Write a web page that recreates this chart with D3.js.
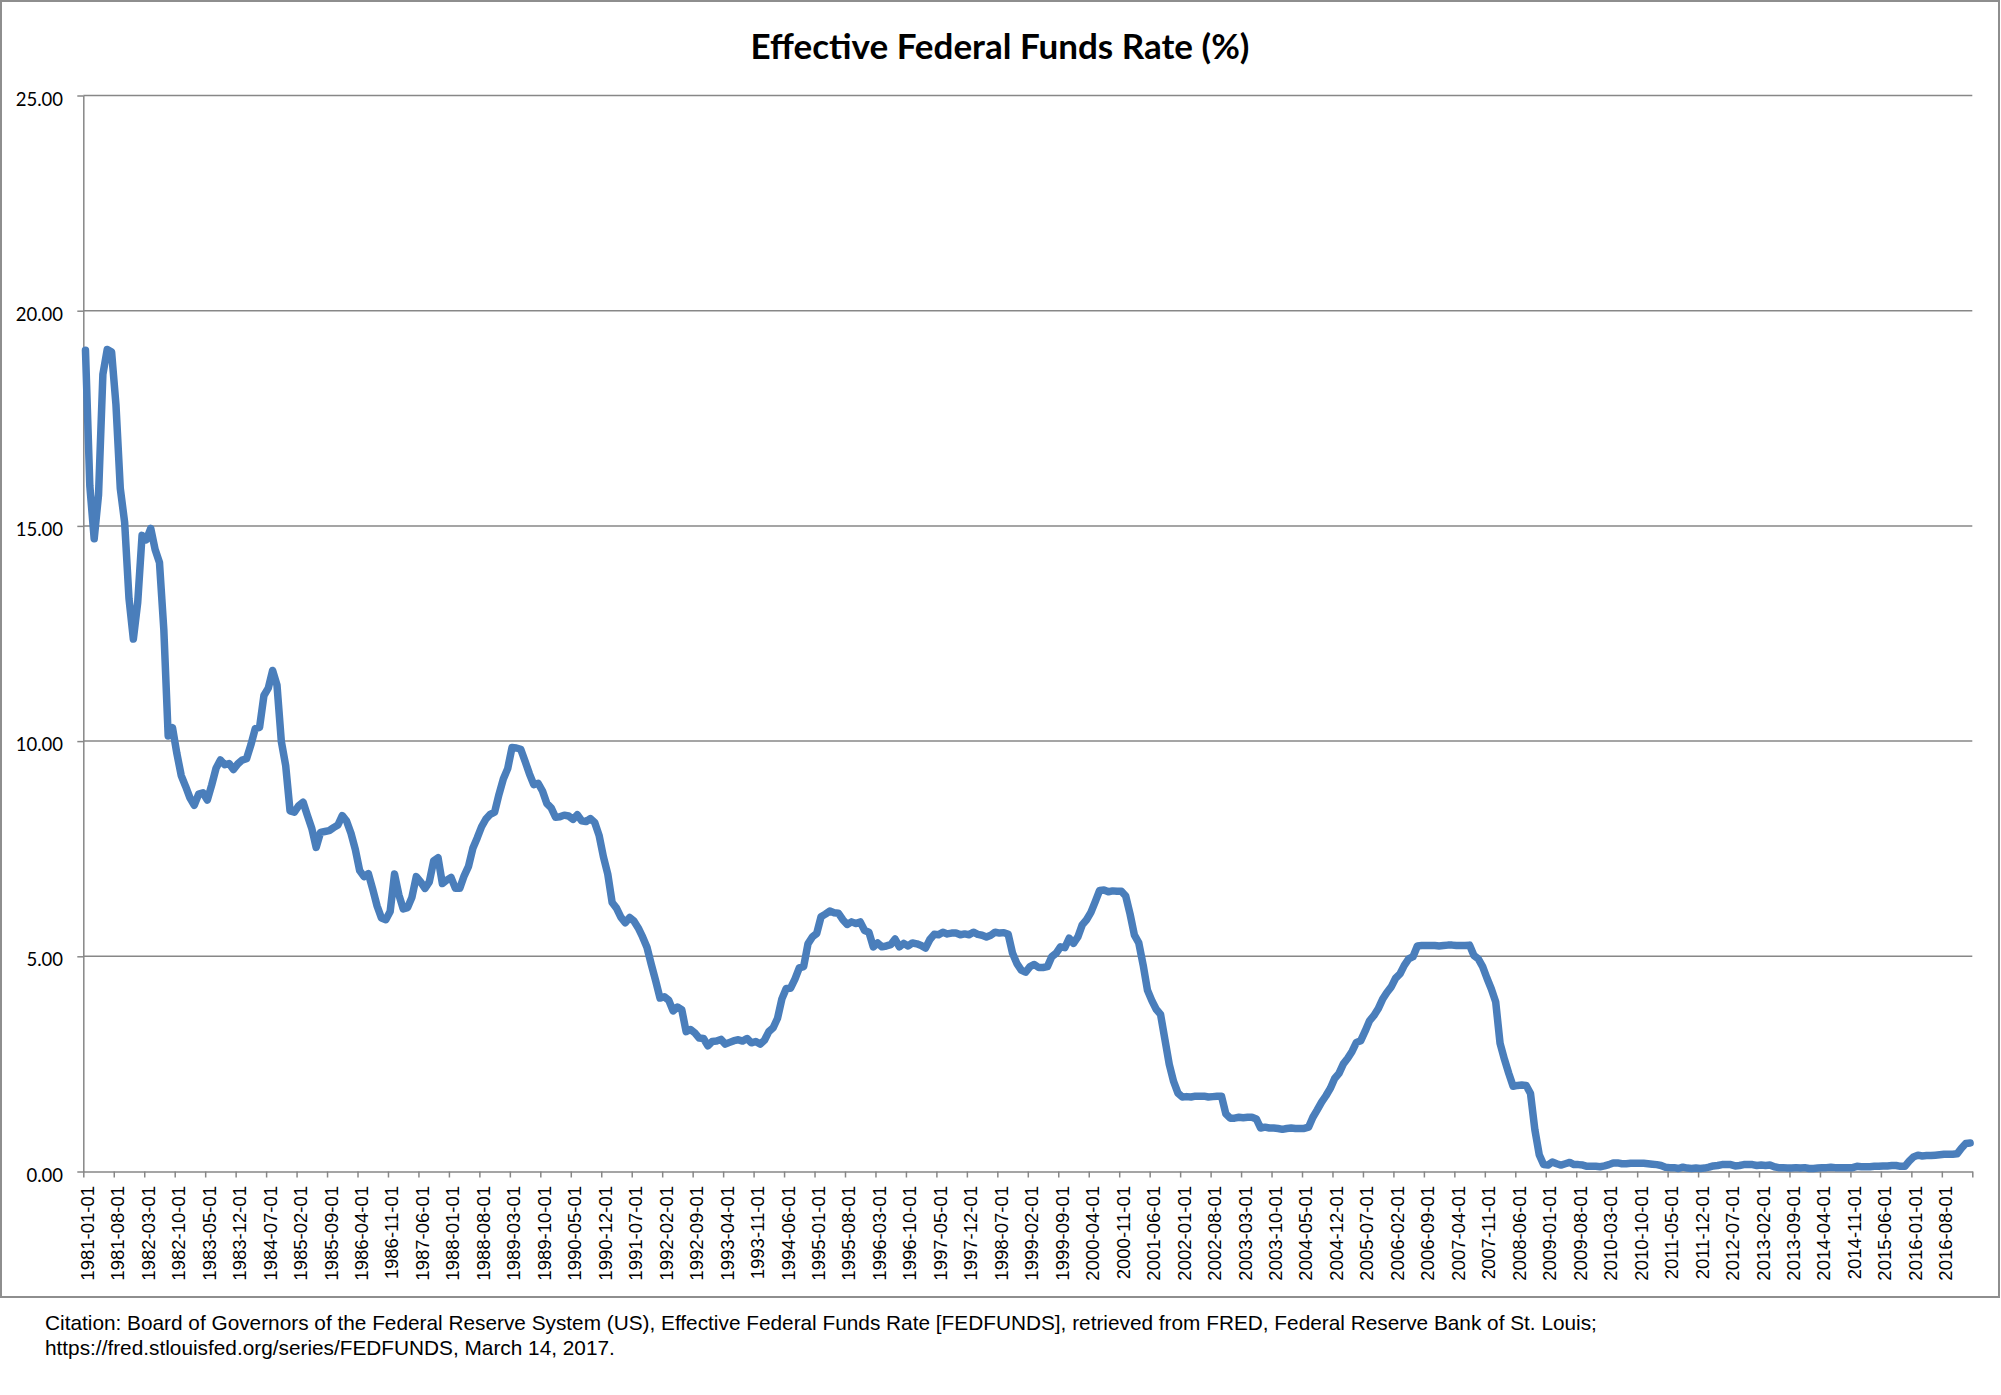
<!DOCTYPE html>
<html>
<head>
<meta charset="utf-8">
<script src="https://cdn.jsdelivr.net/npm/d3@7"></script>
<style>
  html, body { margin: 0; padding: 0; background: #ffffff; }
  svg { display: block; }
</style>
</head>
<body>
<svg id="chart" width="2001" height="1395"></svg>
<script>
// ---- Data: monthly Effective Federal Funds Rate (%) from 1981-01 to 2017-02 ----
const startMonth = "1981-01-01";
const rates = [
  19.08, 15.93, 14.70, 15.72, 18.52, 19.10, 19.04, 17.82, 15.87, 15.08, 13.31, 12.37, // 1981
  13.22, 14.78, 14.68, 14.94, 14.45, 14.15, 12.59, 10.12, 10.31, 9.71, 9.20, 8.95,    // 1982
  8.68, 8.51, 8.77, 8.80, 8.63, 8.98, 9.37, 9.56, 9.45, 9.48, 9.34, 9.47,             // 1983
  9.56, 9.59, 9.91, 10.29, 10.32, 11.06, 11.23, 11.64, 11.30, 9.99, 9.43, 8.38,       // 1984
  8.35, 8.50, 8.58, 8.27, 7.97, 7.53, 7.88, 7.90, 7.92, 7.99, 8.05, 8.27,             // 1985
  8.14, 7.86, 7.48, 6.99, 6.85, 6.92, 6.56, 6.17, 5.89, 5.85, 6.04, 6.91,             // 1986
  6.43, 6.10, 6.13, 6.37, 6.85, 6.73, 6.58, 6.73, 7.22, 7.29, 6.69, 6.77,             // 1987
  6.83, 6.58, 6.58, 6.87, 7.09, 7.51, 7.75, 8.01, 8.19, 8.30, 8.35, 8.76,             // 1988
  9.12, 9.36, 9.85, 9.84, 9.81, 9.53, 9.24, 8.99, 9.02, 8.84, 8.55, 8.45,             // 1989
  8.23, 8.24, 8.28, 8.26, 8.18, 8.29, 8.15, 8.13, 8.20, 8.11, 7.81, 7.31,             // 1990
  6.91, 6.25, 6.12, 5.91, 5.78, 5.90, 5.82, 5.66, 5.45, 5.21, 4.81, 4.43,             // 1991
  4.03, 4.06, 3.98, 3.73, 3.82, 3.76, 3.25, 3.30, 3.22, 3.10, 3.09, 2.92,             // 1992
  3.02, 3.03, 3.07, 2.96, 3.00, 3.04, 3.06, 3.03, 3.09, 2.99, 3.02, 2.96,             // 1993
  3.05, 3.25, 3.34, 3.56, 4.01, 4.25, 4.26, 4.47, 4.73, 4.76, 5.29, 5.45,             // 1994
  5.53, 5.92, 5.98, 6.05, 6.01, 6.00, 5.85, 5.74, 5.80, 5.76, 5.80, 5.60,             // 1995
  5.56, 5.22, 5.31, 5.22, 5.24, 5.27, 5.40, 5.22, 5.30, 5.24, 5.31, 5.29,             // 1996
  5.25, 5.19, 5.39, 5.51, 5.50, 5.56, 5.52, 5.54, 5.54, 5.50, 5.52, 5.50,             // 1997
  5.56, 5.51, 5.49, 5.45, 5.49, 5.56, 5.54, 5.55, 5.51, 5.07, 4.83, 4.68,             // 1998
  4.63, 4.76, 4.81, 4.74, 4.74, 4.76, 4.99, 5.07, 5.22, 5.20, 5.42, 5.30,             // 1999
  5.45, 5.73, 5.85, 6.02, 6.27, 6.53, 6.54, 6.50, 6.52, 6.51, 6.51, 6.40,             // 2000
  5.98, 5.49, 5.31, 4.80, 4.21, 3.97, 3.77, 3.65, 3.07, 2.49, 2.09, 1.82,             // 2001
  1.73, 1.74, 1.73, 1.75, 1.75, 1.75, 1.73, 1.74, 1.75, 1.75, 1.34, 1.24,             // 2002
  1.24, 1.26, 1.25, 1.26, 1.26, 1.22, 1.01, 1.03, 1.01, 1.01, 1.00, 0.98,             // 2003
  1.00, 1.01, 1.00, 1.00, 1.00, 1.03, 1.26, 1.43, 1.61, 1.76, 1.93, 2.16,             // 2004
  2.28, 2.50, 2.63, 2.79, 3.00, 3.04, 3.26, 3.50, 3.62, 3.78, 4.00, 4.16,             // 2005
  4.29, 4.49, 4.59, 4.79, 4.94, 4.99, 5.24, 5.25, 5.25, 5.25, 5.25, 5.24,             // 2006
  5.25, 5.26, 5.26, 5.25, 5.25, 5.25, 5.26, 5.02, 4.94, 4.76, 4.49, 4.24,             // 2007
  3.94, 2.98, 2.61, 2.28, 1.98, 2.00, 2.01, 2.00, 1.81, 0.97, 0.39, 0.16,             // 2008
  0.15, 0.22, 0.18, 0.15, 0.18, 0.21, 0.16, 0.16, 0.15, 0.12, 0.12, 0.12,             // 2009
  0.11, 0.13, 0.16, 0.20, 0.20, 0.18, 0.18, 0.19, 0.19, 0.19, 0.19, 0.18,             // 2010
  0.17, 0.16, 0.14, 0.10, 0.09, 0.09, 0.07, 0.10, 0.08, 0.07, 0.08, 0.07,             // 2011
  0.08, 0.10, 0.13, 0.14, 0.16, 0.16, 0.16, 0.13, 0.14, 0.16, 0.16, 0.16,             // 2012
  0.14, 0.15, 0.14, 0.15, 0.11, 0.09, 0.09, 0.08, 0.08, 0.09, 0.08, 0.09,             // 2013
  0.07, 0.07, 0.08, 0.09, 0.09, 0.10, 0.09, 0.09, 0.09, 0.09, 0.09, 0.12,             // 2014
  0.11, 0.11, 0.11, 0.12, 0.12, 0.13, 0.13, 0.14, 0.14, 0.12, 0.12, 0.24,             // 2015
  0.34, 0.38, 0.36, 0.37, 0.37, 0.38, 0.39, 0.40, 0.40, 0.40, 0.41, 0.54,             // 2016
  0.65, 0.66                                                                          // 2017
];
const yTickValues = [0, 5, 10, 15, 20, 25];
const labelEvery = 7;
const titleText = "Effective Federal Funds Rate (%)";
const citationLines = [
  "Citation: Board of Governors of the Federal Reserve System (US), Effective Federal Funds Rate [FEDFUNDS], retrieved from FRED, Federal Reserve Bank of St. Louis;",
  "https://fred.stlouisfed.org/series/FEDFUNDS, March 14, 2017."
];

// ---- Derived categories ----
const fmt = d3.timeFormat("%Y-%m-%d");
const start = d3.timeParse("%Y-%m-%d")(startMonth);
const categories = rates.map((_, i) => fmt(d3.timeMonth.offset(start, i)));

// ---- Layout ----
const svg = d3.select("#chart");
const plot = { left: 83.3, right: 1972.3, top: 95.5, bottom: 1171.5 };
const gridColor = "#878787";

// chart-area border
svg.append("rect")
  .attr("x", 1).attr("y", 1).attr("width", 1998).attr("height", 1296)
  .attr("fill", "#ffffff").attr("stroke", "#8e8e8e").attr("stroke-width", 2);

const x = d3.scaleBand().domain(categories).range([plot.left, plot.right]).padding(0);
const xEdge = d3.scaleLinear().domain([0, categories.length]).range([plot.left, plot.right]);
const y = d3.scaleLinear().domain([0, 25]).range([plot.bottom, plot.top]);

// gridlines
svg.append("g").selectAll("line")
  .data(yTickValues.filter(v => v > 0))
  .join("line")
  .attr("x1", plot.left).attr("x2", plot.right)
  .attr("y1", d => y(d)).attr("y2", d => y(d))
  .attr("stroke", gridColor).attr("stroke-width", 1.5);

// y axis
const yAxis = svg.append("g")
  .attr("transform", `translate(${plot.left},0)`)
  .call(d3.axisLeft(y).tickValues(yTickValues).tickSize(6).tickSizeOuter(0).tickFormat(""));
yAxis.selectAll("path, line").attr("stroke", gridColor).attr("stroke-width", 1.5);

svg.append("g").selectAll("text")
  .data(yTickValues)
  .join("text")
  .attr("x", 63)
  .attr("y", d => y(d) + 10)
  .attr("text-anchor", "end")
  .attr("font-family", "Lato, 'Open Sans', sans-serif")
  .attr("font-size", 18.5)
  .attr("fill", "#000")
  .text(d => d3.format(".2f")(d));

// x axis (tick marks at category boundaries)
const tickIdx = d3.range(0, categories.length + 1, labelEvery);
const xAxis = svg.append("g")
  .attr("transform", `translate(0,${plot.bottom})`)
  .call(d3.axisBottom(xEdge).tickValues(tickIdx).tickSize(6).tickSizeOuter(0).tickFormat(""));
xAxis.selectAll("path, line").attr("stroke", gridColor).attr("stroke-width", 1.5);

// x labels (rotated)
const labelCats = categories.filter((_, i) => i % labelEvery === 0);
svg.append("g").selectAll("text")
  .data(labelCats)
  .join("text")
  .attr("transform", d => `translate(${x(d) + x.bandwidth() / 2 + 8.3},${plot.bottom + 14.5}) rotate(-90)`)
  .attr("text-anchor", "end")
  .attr("font-family", "'Liberation Sans', Arial, sans-serif")
  .attr("font-size", 18.5)
  .attr("fill", "#000")
  .text(d => d);

// line
const line = d3.line()
  .x((d, i) => x(categories[i]) + x.bandwidth() / 2)
  .y(d => y(d))
  .curve(d3.curveLinear);
svg.append("path")
  .datum(rates)
  .attr("d", line)
  .attr("fill", "none")
  .attr("stroke", "#4a7ebb")
  .attr("stroke-width", 7.5)
  .attr("stroke-linejoin", "round")
  .attr("stroke-linecap", "round");

// title
svg.append("text")
  .attr("x", 1000).attr("y", 59)
  .attr("text-anchor", "middle")
  .attr("font-family", "Lato, 'Open Sans', sans-serif")
  .attr("font-weight", "bold")
  .attr("font-size", 35)
  .attr("fill", "#000")
  .text(titleText);

// citation
svg.append("g").selectAll("text")
  .data(citationLines)
  .join("text")
  .attr("x", 45)
  .attr("y", (d, i) => 1330 + i * 25)
  .attr("font-family", "'Liberation Sans', Arial, sans-serif")
  .attr("font-size", 20.8)
  .attr("fill", "#000")
  .text(d => d);
</script>
</body>
</html>
